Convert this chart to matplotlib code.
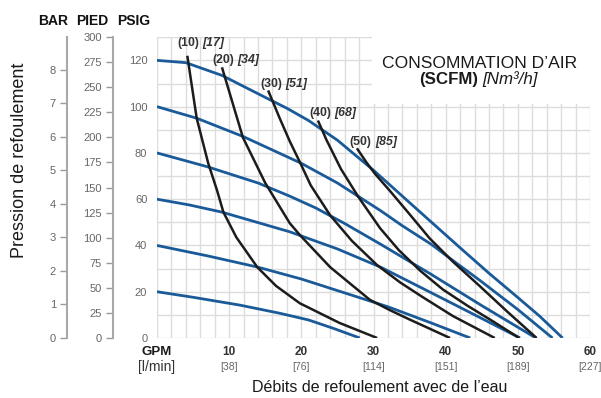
import numpy as np
import matplotlib
matplotlib.use("Agg")
import matplotlib.pyplot as plt
from matplotlib import font_manager as fm
from matplotlib.patches import Rectangle

# ---------------- data ----------------
# discharge pressure curves (air inlet pressure, psig)
p120_gpm = [0, 4, 9, 15, 18, 21, 25, 30, 35, 42, 46, 50, 53, 56.2]
p120_psi = [120, 119, 113.5, 104, 99.3, 94, 85.5, 72.5, 58.5, 39, 28, 17.5, 9.5, 0]
p100_gpm = [0, 5.5, 12, 20, 25, 28, 31, 34, 38, 41, 44.7, 50, 54.8]
p100_psi = [100, 95, 87, 75.5, 67, 61, 55, 48.5, 40.5, 33.5, 25, 12.3, 0]
p80_gpm = [0, 7, 14, 18.4, 22, 26, 31, 38, 45, 52.5]
p80_psi = [80, 74, 67, 61.3, 56.2, 49.5, 40.5, 27.5, 14, 0]
p60_gpm = [0, 4.5, 9, 18.4, 25, 31, 40, 50.3]
p60_psi = [60, 57.5, 54.4, 45.9, 38.5, 30.6, 16.4, 0]
p40_gpm = [0, 7, 14, 20, 25, 32, 38, 43.4]
p40_psi = [40, 35.5, 30.6, 25.5, 20.5, 13.5, 6.5, 0]
p20_gpm = [0, 5, 11.5, 17, 21, 24.5, 28.1]
p20_psi = [20, 17.6, 14.2, 10.7, 7.8, 4.1, 0]

# air consumption curves (SCFM)
a10_gpm = [4.2, 5.5, 7.1, 8.3, 9.2, 11, 13.9, 16.5, 19.8, 25.3, 30.5]
a10_psi = [122, 95, 75.5, 64, 54.4, 43.5, 30.6, 22.5, 15, 6.5, 0]
a20_gpm = [9.0, 11.9, 15, 18.4, 19.8, 24, 29.5, 32.3, 35, 37.8, 40.6]
a20_psi = [117, 86.7, 67, 49.6, 44.5, 30.6, 16.5, 12, 8, 4, 0]
a30_gpm = [15.4, 17, 18.4, 19.8, 21.3, 24, 27, 30.5, 33.7, 36.8, 41, 46.8]
a30_psi = [107, 95, 85, 76, 66, 53, 42, 31.5, 24, 17.7, 9.5, 0]
a40_gpm = [22.3, 23.5, 25.5, 27.9, 30.9, 33.5, 36.5, 39.6, 43, 46.5, 50.2]
a40_psi = [94, 85.5, 73, 61, 47.5, 38, 29, 21, 14, 7.3, 0]
a50_gpm = [27.7, 29, 30.2, 32.3, 35, 37.8, 41, 44.7, 48.5, 52.6]
a50_psi = [82, 76, 71, 63.5, 53.5, 43, 33, 22.5, 11.5, 0]

air_scfm = ["(10)", "(20)", "(30)", "(40)", "(50)"]
air_nm3h = ["[17]", "[34]", "[51]", "[68]", "[85]"]

gpm_ticks = [10, 20, 30, 40, 50, 60]
lpm_ticks = ["[38]", "[76]", "[114]", "[151]", "[189]", "[227]"]
psig_ticks = [0, 20, 40, 60, 80, 100, 120]
pied_ticks = [0, 25, 50, 75, 100, 125, 150, 175, 200, 225, 250, 275, 300]
bar_ticks = [0, 1, 2, 3, 4, 5, 6, 7, 8]

# ---------------- fonts ----------------
names = {f.name for f in fm.fontManager.ttflist}
def pick(*cands):
    for c in cands:
        if c in names:
            return c
    return "DejaVu Sans"
REG = pick("Liberation Sans", "Arimo", "DejaVu Sans")
plt.rcParams["font.family"] = [REG, "DejaVu Sans"]

BLUE = "#1a5a99"
BLACK = "#1c1c1c"
GRAY = "#666666"

W, H = 601, 398
fig = plt.figure(figsize=(W / 100, H / 100), dpi=100)
L, R, T, B = 157, 590, 37, 338
ax = fig.add_axes([L / W, 1 - B / H, (R - L) / W, (B - T) / H])
ax.set_xlim(0, 60)
ax.set_ylim(0, 130.1)

# grid
ax.set_xticks(np.arange(0, 61, 2))
ax.set_xticklabels([])
ax.set_yticks(np.arange(0, 131, 10))
ax.set_yticklabels([str(v) if v in psig_ticks else "" for v in range(0, 131, 10)])
ax.tick_params(axis="both", length=0)
ax.tick_params(axis="y", pad=7, labelcolor=GRAY, labelsize=8)
ax.grid(True, color="#dcdcdc", lw=1.0)
ax.set_axisbelow(True)
for s in ax.spines.values():
    s.set_visible(False)

# legend box
ax.add_patch(Rectangle((29.8, 101), 30.2, 29.1, facecolor="white", edgecolor="none", zorder=1))
ax.text(44.7, 116.5, "CONSOMMATION D\u2019AIR", fontsize=12.6,
        ha="center", va="baseline", color="#1a1a1a", zorder=3)
ax.annotate("(SCFM)", xy=(44.75, 109.6), xytext=(-1.5, 0), textcoords="offset points",
            ha="right", va="baseline", fontsize=12.2, fontweight="bold",
            color="#1a1a1a", zorder=3)
ax.annotate("[Nm\u00b3/h]", xy=(44.75, 109.6), xytext=(1.5, 0), textcoords="offset points",
            ha="left", va="baseline", fontsize=12.2, style="italic",
            color="#1a1a1a", zorder=3)

# curves
for gx, gy in [(p120_gpm, p120_psi), (p100_gpm, p100_psi), (p80_gpm, p80_psi),
               (p60_gpm, p60_psi), (p40_gpm, p40_psi), (p20_gpm, p20_psi)]:
    ax.plot(gx, gy, color=BLUE, lw=2.0, solid_capstyle="butt",
            solid_joinstyle="round", zorder=3)
for gx, gy in [(a10_gpm, a10_psi), (a20_gpm, a20_psi), (a30_gpm, a30_psi),
               (a40_gpm, a40_psi), (a50_gpm, a50_psi)]:
    ax.plot(gx, gy, color=BLACK, lw=1.8, solid_capstyle="butt",
            solid_joinstyle="round", zorder=4)

# curve labels
label_pos = [(5.96, 127.3), (10.8, 120.0), (17.45, 110.0), (24.2, 97.1), (29.8, 84.6)]
for (x, y), a, b in zip(label_pos, air_scfm, air_nm3h):
    ax.annotate(a, xy=(x, y), xytext=(-0.5, 0), textcoords="offset points", ha="right",
                va="center", fontsize=8.8, fontweight="bold", color="#333333", zorder=5)
    ax.annotate(b, xy=(x, y), xytext=(2.0, 0), textcoords="offset points", ha="left",
                va="center", fontsize=8.8, fontweight="bold", style="italic",
                color="#333333", zorder=5)

# x tick labels (GPM / l/min)
tr = ax.get_xaxis_transform()
ax.text(0, -0.047, "GPM", transform=tr, ha="center", va="center", fontsize=9.5,
        fontweight="bold", color="#1a1a1a")
ax.text(0, -0.098, "[l/min]", transform=tr, ha="center", va="center", fontsize=10,
        color="#333333")
for g, l in zip(gpm_ticks, lpm_ticks):
    ax.text(g, -0.047, str(g), transform=tr, ha="center", va="center", fontsize=8.5,
            fontweight="bold", color="#333333")
    ax.text(g, -0.098, l, transform=tr, ha="center", va="center", fontsize=7.5,
            color=GRAY)

# secondary pressure scales
PSI_PER_BAR = 14.5038
FT_PER_PSI = 2.30666
for loc, fwd, inv, ticks in [
    (-(157 - 113) / 433, lambda p: p * FT_PER_PSI, lambda f: f / FT_PER_PSI, pied_ticks),
    (-(157 - 67) / 433, lambda p: p / PSI_PER_BAR, lambda b: b * PSI_PER_BAR, bar_ticks),
]:
    sec = ax.secondary_yaxis(loc, functions=(fwd, inv))
    sec.set_yticks(ticks)
    sec.tick_params(axis="y", length=5, width=1.0, color="#9a9a9a", pad=3,
                    labelcolor=GRAY, labelsize=8)
    sec.spines["left"].set_color("#a8a8a8")
    sec.spines["left"].set_linewidth(1.5)

# headers
for txt, xc in [("BAR", 53), ("PIED", 92.5), ("PSIG", 134)]:
    fig.text(xc / W, 1 - 21 / H, txt, fontsize=10, fontweight="bold",
             ha="center", va="center", color="#111111")

# axis titles
fig.text(20 / W, 1 - 160 / H, "Pression de refoulement", fontsize=13,
         rotation=90, ha="center", va="center", color="#1a1a1a")
fig.text(380 / W, 1 - 388 / H, "D\u00e9bits de refoulement avec de l\u2019eau",
         fontsize=11.5, ha="center", va="center", color="#1a1a1a")

fig.savefig("out.png", dpi=100)
